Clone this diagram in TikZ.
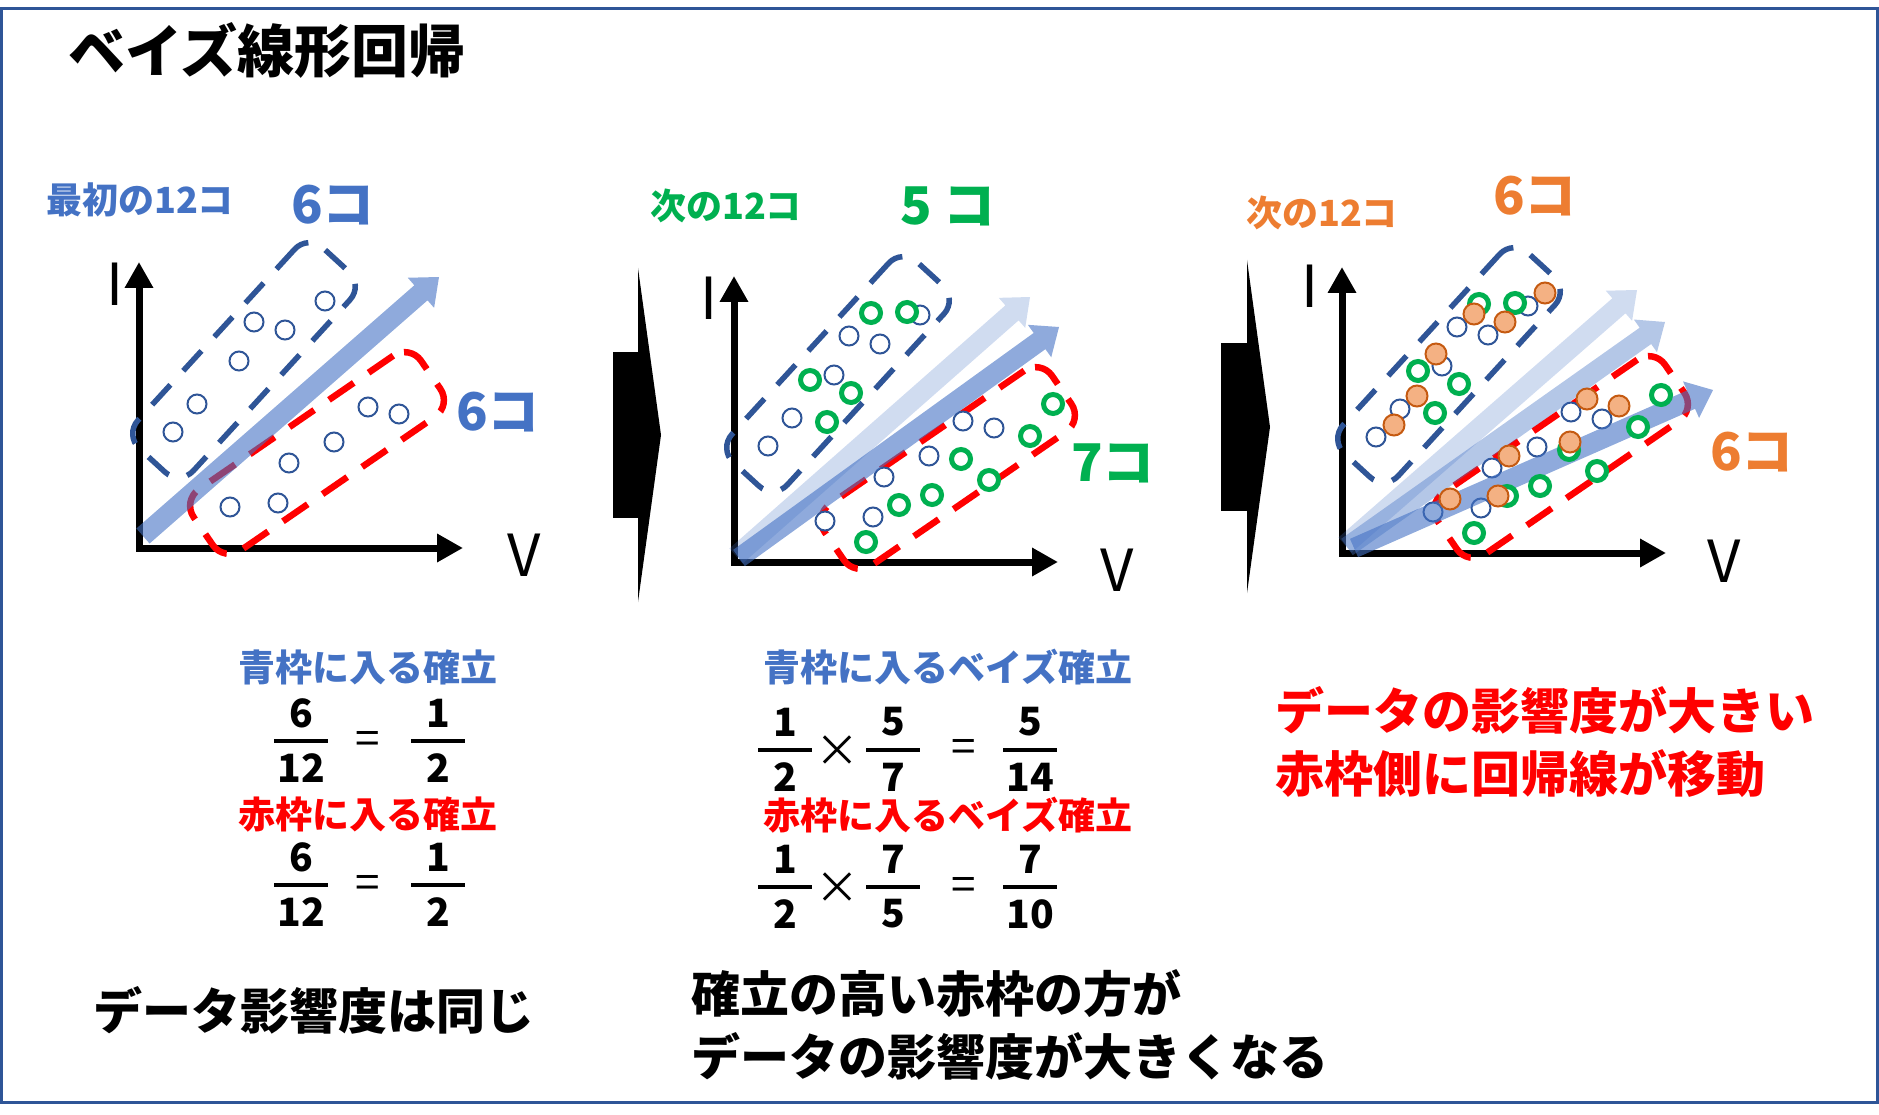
\documentclass[tikz,border=0pt]{standalone}
\usepackage{fontspec}
\setmainfont{Noto Sans CJK JP}
\usetikzlibrary{arrows.meta,calc}

\definecolor{accblue}{HTML}{4472C4}
\definecolor{navy}{HTML}{2F5597}
\definecolor{grn}{HTML}{00B050}
\definecolor{org}{HTML}{ED7D31}
\definecolor{orgfill}{HTML}{F4B183}
\definecolor{orgline}{HTML}{C55A11}

\tikzset{
  axisline/.style={line width=7pt,{Triangle[width=27pt,length=26pt]}-{Triangle[width=27pt,length=26pt]}},
  bluebox/.style={draw=navy,line width=5.5pt,dash pattern=on 27pt off 19pt,rounded corners=20pt,
    rotate=47.5,minimum width=272pt,minimum height=75pt,inner sep=0pt},
  redbox/.style={draw=red,line width=6.5pt,dash pattern=on 30pt off 18pt,rounded corners=20pt,
    rotate=34.5,minimum width=276pt,minimum height=74pt,inner sep=0pt},
  bdot/.style={draw=navy,line width=2pt,fill=white},
  gdot/.style={draw=grn,line width=5pt,fill=white},
  odot/.style={draw=orgline,line width=2pt,fill=orgfill},
  ttl/.style={inner sep=0pt,font=\fontsize{57}{60}\selectfont\bfseries},
  lbl/.style={inner sep=0pt,font=\fontsize{36}{40}\selectfont\bfseries},
  big/.style={inner sep=0pt,font=\fontsize{52}{56}\selectfont\bfseries},
  axlbl/.style={inner sep=0pt,font=\fontsize{58}{60}\selectfont},
  eqhead/.style={inner sep=0pt,font=\fontsize{37}{40}\selectfont\bfseries},
  num/.style={inner sep=0pt,font=\fontsize{39}{40}\selectfont\bfseries},
  op/.style={inner sep=0pt,font=\fontsize{44}{44}\selectfont},
  fracbar/.style={line width=4pt},
  note/.style={inner sep=0pt,align=left,font=\fontsize{49}{63}\selectfont\bfseries},
}

% block arrow from #1 to #2
\newcommand{\regarrow}[3]{%
  \coordinate (hb) at ($(#2)!24pt!(#1)$);
  \fill[#3] ($(#1)!10pt!90:(#2)$) -- ($(hb)!10pt!-90:(#1)$) -- ($(hb)!20pt!-90:(#1)$)
    -- (#2) -- ($(hb)!20pt!90:(#1)$) -- ($(hb)!10pt!90:(#1)$) -- ($(#1)!10pt!-90:(#2)$) -- cycle;}
% fraction: name, x, bar y, numerator, denominator
\newcommand{\frc}[5]{%
  \node[num] (#1n) at (#2,#3-28) {#4};
  \node[num] (#1d) at (#2,#3+27) {#5};
  \draw[fracbar] (#2-27,#3) -- (#2+27,#3);}
\newcommand{\bluedots}{%
  \foreach \x/\y in {186/-247,115/-226,146/-218,100/-187,58/-144,34/-116,
                     229/-141,260/-134,195/-106,150/-85,91/-41,139/-45}
    \draw[bdot] (\x,\y) circle[radius=9.5pt];}
\newcommand{\greendots}{%
  \foreach \x/\y in {137/-249,173/-250,76/-182,117/-169,93/-140,
                     319/-158,296/-126,227/-103,255/-82,198/-67,165/-57,132/-20}
    \draw[gdot] (\x,\y) circle[radius=9.5pt];}

\begin{document}
\begin{tikzpicture}[x=1pt,y=-1pt]
\useasboundingbox (0,0) rectangle (1879,1115);
% Frame
\draw[navy,line width=3pt] (1,9) rectangle (1877,1102);
% Title
\node[ttl,anchor=west] (title) at (68,50) {ベイズ線形回帰};

% Panel 1
\begin{scope}[shift={(139,548)}]
  \draw[axisline] (0,-286) -- (0,0) -- (324,0);
  \node[bluebox] (bb1) at (105,-188) {};
  \node[redbox] (rb1) at (178,-95) {};
  \bluedots
  \coordinate (s1) at (4,-12);
  \coordinate (t1) at (300,-271);
  \regarrow{s1}{t1}{accblue,fill opacity=0.6}
\end{scope}
\node[lbl,accblue] (head1) at (140,200) {最初の12コ};
\node[big,accblue] (up1) at (333,205) {6コ};
\node[big,accblue] (lo1) at (498,412) {6コ};
\node[axlbl] (i1) at (115,284) {I};
\node[axlbl] (v1) at (524,555) {V};

% Separators
\fill (613,352) rectangle (639,518);
\fill (638,268) -- (661,435) -- (638,602) -- cycle;
\fill (1221,343) rectangle (1248,511);
\fill (1247,260) -- (1270,427) -- (1247,593) -- cycle;

% Panel 2
\begin{scope}[shift={(734,562)}]
  \draw[axisline] (0,-286) -- (0,0) -- (324,0);
  \node[bluebox] (bb2) at (104,-188) {};
  \node[redbox] (rb2) at (214,-94) {};
  \bluedots
  \coordinate (s2a) at (2,-6);
  \coordinate (t2a) at (296,-265);
  \coordinate (s2b) at (5,-4);
  \coordinate (t2b) at (325,-235);
  \regarrow{s2a}{t2a}{accblue,fill opacity=0.25}
  \regarrow{s2b}{t2b}{accblue,fill opacity=0.6}
  \greendots
\end{scope}
\node[lbl,grn] (head2) at (726,206) {次の12コ};
\node[big,grn] (up2) at (948,206) {5 コ};
\node[big,grn] (lo2) at (1113,463) {7コ};
\node[axlbl] (i2) at (709,298) {I};
\node[axlbl] (v2) at (1117,570) {V};

% Panel 3
\begin{scope}[shift={(1342,553)}]
  \draw[axisline] (0,-286) -- (0,0) -- (324,0);
  \node[bluebox] (bb3) at (107,-188) {};
  \node[redbox] (rb3) at (219,-96) {};
  \bluedots
  \coordinate (s3a) at (3,-8);
  \coordinate (t3a) at (295,-263);
  \coordinate (s3b) at (5,-6);
  \coordinate (t3b) at (323,-231);
  \coordinate (s3c) at (12,-5);
  \coordinate (t3c) at (371,-163);
  \regarrow{s3a}{t3a}{accblue,fill opacity=0.25}
  \regarrow{s3b}{t3b}{accblue,fill opacity=0.4}
  \regarrow{s3c}{t3c}{accblue,fill opacity=0.6}
  \greendots
  \foreach \x/\y in {203/-260,132/-239,163/-231,94/-199,75/-157,52/-128,
                     245/-154,277/-147,228/-111,167/-97,156/-57,108/-54}
    \draw[odot] (\x,\y) circle[radius=10.5pt];
\end{scope}
\node[lbl,org] (head3) at (1322,213) {次の12コ};
\node[big,org] (up3) at (1535,196) {6コ};
\node[big,org] (lo3) at (1752,452) {6コ};
\node[axlbl] (i3) at (1310,286) {I};
\node[axlbl] (v3) at (1724,561) {V};

% Left equations
\node[eqhead,accblue] (bq1) at (368,667) {青枠に入る確立};
\frc{fa}{301}{741}{6}{12}
\node[op] (eqa) at (368,743) {=};
\frc{fb}{438}{741}{1}{2}
\node[eqhead,red] (rq1) at (368,815) {赤枠に入る確立};
\frc{fc}{301}{885}{6}{12}
\node[op] (eqc) at (368,887) {=};
\frc{fd}{438}{885}{1}{2}

% Right equations
\node[eqhead,accblue] (bq2) at (948,667) {青枠に入るベイズ確立};
\frc{ga}{785}{750}{1}{2}
\node[op] (mla) at (837,751) {×};
\frc{gb}{893}{750}{5}{7}
\node[op] (eqg) at (964,751) {=};
\frc{gc}{1030}{750}{5}{14}
\node[eqhead,red] (rq2) at (948,815) {赤枠に入るベイズ確立};
\frc{ha}{785}{887}{1}{2}
\node[op] (mlb) at (837,888) {×};
\frc{hb}{893}{887}{7}{5}
\node[op] (eqh) at (964,889) {=};
\frc{hc}{1030}{887}{7}{10}

% Notes
\node[note,red,anchor=north west] (shift) at (1275,686) {データの影響度が大きい\\赤枠側に回帰線が移動};
\node[note,anchor=west] (same) at (93,1010) {データ影響度は同じ};
\node[note,anchor=north west] (bigger) at (691,969) {確立の高い赤枠の方が\\データの影響度が大きくなる};
\end{tikzpicture}
\end{document}
